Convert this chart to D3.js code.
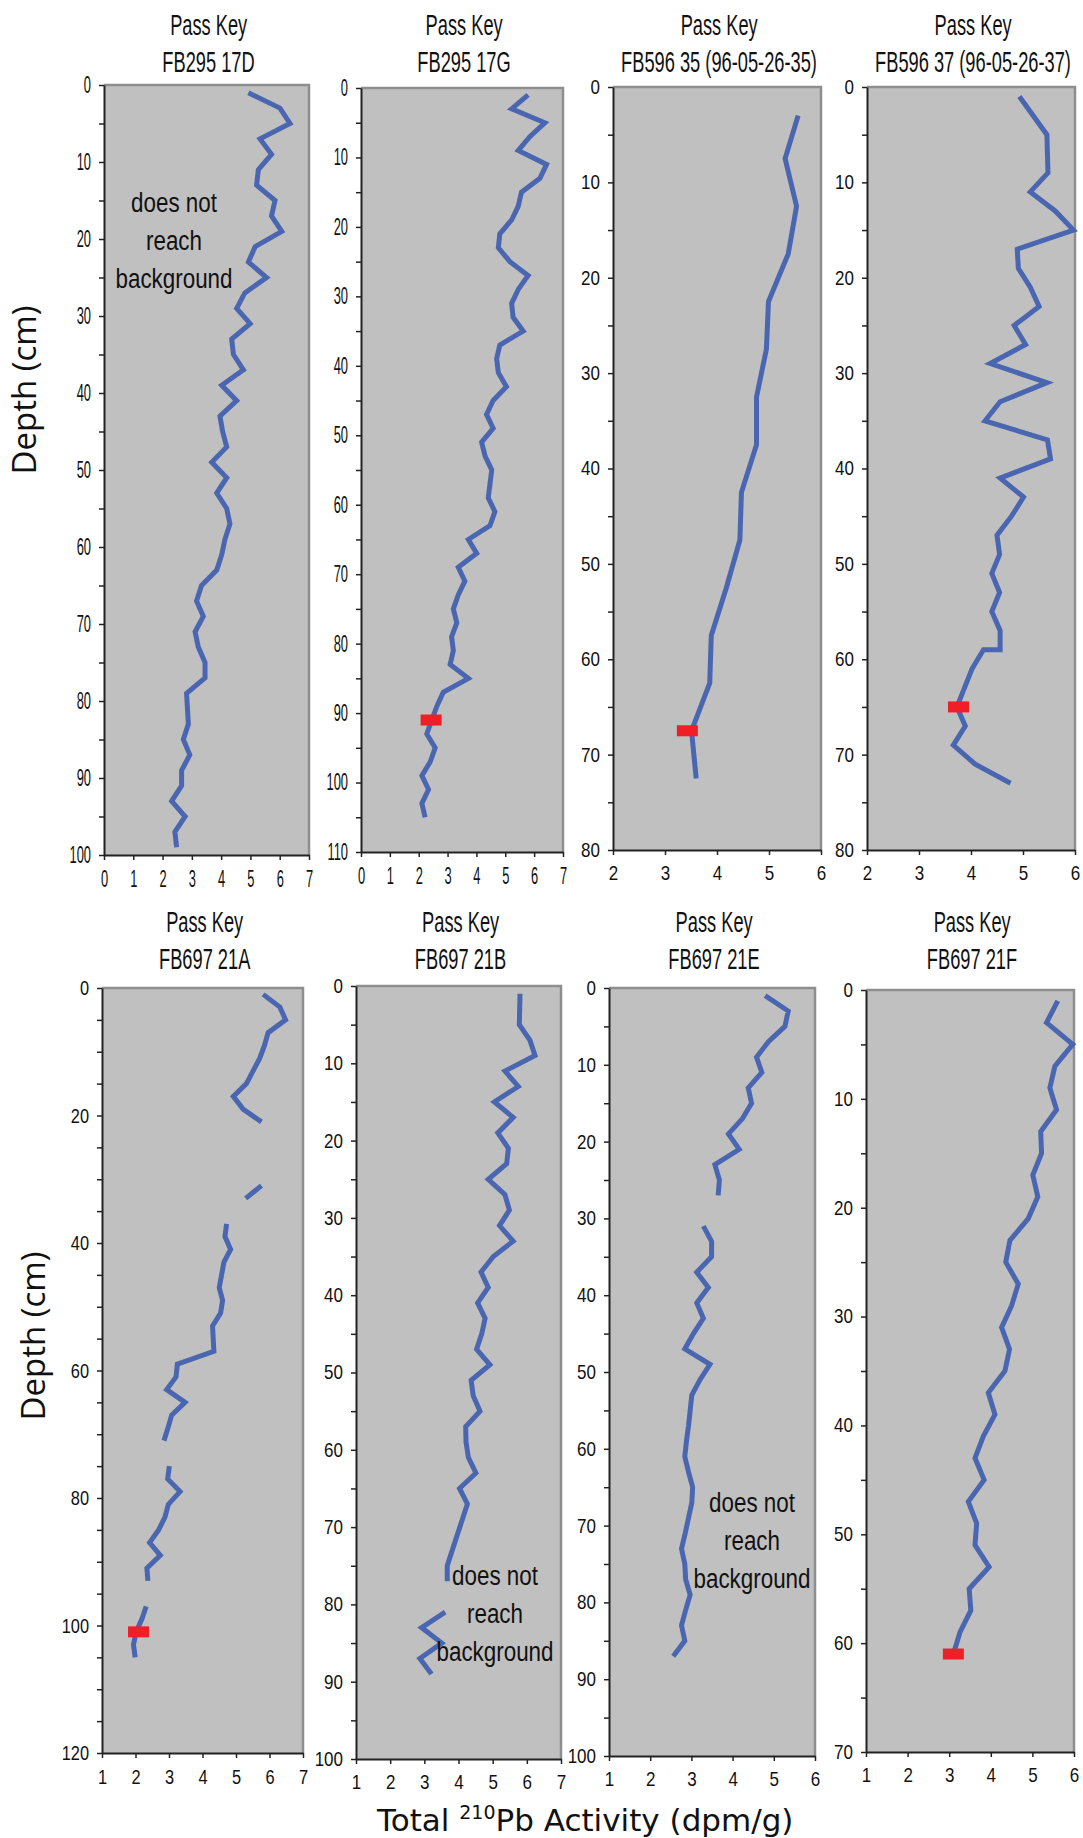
<!DOCTYPE html>
<html>
<head>
<meta charset="utf-8">
<script src="https://cdn.jsdelivr.net/npm/d3@7"></script>
<style>
  body { margin: 0; background: #fff; }
  svg text { font-family: "Liberation Sans", Arial, sans-serif; fill: #111; }
  .sq { transform-box: fill-box; transform-origin: center; }
  .sqr { transform-box: fill-box; transform-origin: right center; }
</style>
</head>
<body>
<svg width="1083" height="1838"></svg>
<script>
// depth (cm) and total 210Pb activity (dpm/g) for each core, null = gap in the line
const depth17D = [1,3,5,7,9,11,13,15,17,19,21,23,25,27,29,31,33,35,37,39,41,43,45,47,49,51,53,55,57,59,61,63,65,67,69,71,73,75,77,79,81,83,85,87,89,91,93,95,97,99];
const pb17D = [4.93,6.01,6.35,5.33,5.72,5.27,5.21,5.84,5.72,6.07,5.16,4.93,5.55,4.81,4.53,4.99,4.36,4.42,4.76,4.02,4.53,3.96,4.05,4.19,3.68,4.19,3.85,4.19,4.30,4.13,4.02,3.85,3.33,3.16,3.39,3.11,3.22,3.45,3.45,2.82,2.85,2.88,2.71,2.93,2.65,2.65,2.31,2.77,2.42,2.48];

const depth17G = [1,3,5,7,9,11,13,15,17,19,21,23,25,27,29,31,33,35,37,39,41,43,45,47,49,51,53,55,57,59,61,63,65,67,69,71,73,75,77,79,81,83,85,87,89,91,93,95,97,99,101,103,105];
const pb17G = [5.79,5.22,6.37,5.85,5.45,6.43,6.20,5.56,5.45,5.22,4.81,4.76,5.16,5.79,5.45,5.22,5.27,5.62,4.81,4.70,4.76,5.04,4.58,4.35,4.58,4.18,4.30,4.53,4.47,4.41,4.64,4.47,3.72,4.01,3.37,3.60,3.37,3.20,3.32,3.14,3.20,3.09,3.72,2.85,2.63,2.45,2.28,2.57,2.40,2.11,2.34,2.11,2.22];
const mark17G = [91, 2.43];

const depth35 = [3,7.5,12.5,17.5,22.5,27.5,32.5,37.5,42.5,47.5,52.5,57.5,62.5,67.5,72.5];
const pb35 = [5.56,5.31,5.53,5.37,4.99,4.95,4.76,4.76,4.47,4.44,4.18,3.89,3.86,3.51,3.60];
const mark35 = [67.5, 3.43];

const depth37 = [1,5,7,9,11,13,15,17,19,21,23,25,27,29,31,33,35,37,39,41,43,45,47,49,51,53,55,57,59,59,61,65,67,69,71,73];
const pb37 = [4.93,5.46,5.47,5.48,5.14,5.62,5.97,4.89,4.91,5.14,5.31,4.83,5.05,4.37,5.46,4.56,4.27,5.47,5.53,4.56,5.01,4.78,4.50,4.55,4.40,4.55,4.40,4.56,4.56,4.24,4.02,3.73,3.89,3.66,4.08,4.76];
const mark37 = [65, 3.76];

const depth21A = [1,3,5,7,9,11,15,17,19,21,25,31,33,35,37,39,41,43,45,47,49,51,53,55,57,59,61,63,65,67,69,71,73,75,77,79,81,83,85,87,89,91,93,95,97,99,101,103,105];
const pb21A = [5.81,6.31,6.48,5.96,5.85,5.71,5.31,4.92,5.21,5.76,null,5.76,5.29,null,4.72,4.67,4.84,4.64,4.57,4.50,4.60,4.54,4.30,4.32,4.34,3.25,3.21,2.93,3.48,3.08,2.97,2.85,null,3.01,2.96,3.33,2.98,2.88,2.69,2.42,2.74,2.34,2.37,null,2.32,2.19,2.02,1.94,1.99];
const mark21A = [101, 2.09];

const depth21B = [1,3,5,7,9,11,13,15,17,19,21,23,25,27,29,31,33,35,37,39,41,43,45,47,49,51,53,55,57,59,61,63,65,67,75,77,79,81,83,85,87,89];
const pb21B = [5.80,5.79,5.78,6.09,6.24,5.36,5.75,5.05,5.60,5.15,5.46,5.41,4.87,5.36,5.49,5.20,5.60,5.02,4.66,4.87,4.56,4.78,4.68,4.53,4.92,4.37,4.43,4.63,4.21,4.22,4.29,4.51,4.03,4.26,3.67,3.67,null,3.61,2.92,3.51,2.87,3.21];

const depth21E = [1,3,5,7,9,11,13,15,17,19,21,23,25,27,29,31,33,35,37,39,41,43,45,47,49,51,53,55,57,59,61,63,65,67,69,71,73,75,77,79,81,83,85,87];
const pb21E = [4.79,5.35,5.27,4.87,4.58,4.71,4.38,4.46,4.24,3.90,4.16,3.57,3.68,3.65,null,3.29,3.49,3.49,3.13,3.41,3.13,3.29,3.05,2.84,3.45,3.21,3.01,2.97,2.93,2.88,2.84,2.93,3.03,3.01,2.93,2.85,2.76,2.84,2.86,2.97,2.86,2.76,2.84,2.56];

const depth21F = [1,3,5,7,9,11,13,15,17,19,21,23,25,27,29,31,33,35,37,39,41,43,45,47,49,51,53,55,57,59,61];
const pb21F = [5.61,5.34,5.97,5.54,5.42,5.58,5.20,5.22,5.01,5.13,4.90,4.46,4.36,4.66,4.50,4.26,4.45,4.34,3.94,4.10,3.82,3.62,3.84,3.46,3.66,3.62,3.96,3.48,3.52,3.26,3.10];
const mark21F = [61, 3.10];

const titles = ["FB295 17D", "FB295 17G", "FB596 35 (96-05-26-35)", "FB596 37 (96-05-26-37)",
                "FB697 21A", "FB697 21B", "FB697 21E", "FB697 21F"];

var svg = d3.select("svg");
var blue = "#4a66b0", red = "#ee1f26", bg = "#c0c0c0";

// layout of the eight panels: plot box [left, top, right, bottom]
var panels = [
  { t: 0, d: depth17D, v: pb17D, xDom: [0, 7], yMax: 100, yLab: 10, box: [104, 85, 309, 855], fs: 23, sx: 0.56, row: 0, note: [174, 212] },
  { t: 1, d: depth17G, v: pb17G, xDom: [0, 7], yMax: 110, yLab: 10, box: [361, 88, 563, 852], fs: 23, sx: 0.56, row: 0, mark: mark17G },
  { t: 2, d: depth35, v: pb35, xDom: [2, 6], yMax: 80, yLab: 10, box: [613, 87, 821, 850], fs: 20, sx: 0.85, row: 0, mark: mark35 },
  { t: 3, d: depth37, v: pb37, xDom: [2, 6], yMax: 80, yLab: 10, box: [867, 87, 1075, 850], fs: 20, sx: 0.85, row: 0, mark: mark37 },
  { t: 4, d: depth21A, v: pb21A, xDom: [1, 7], yMax: 120, yLab: 20, box: [102, 988, 303, 1753], fs: 21, sx: 0.78, row: 1, mark: mark21A },
  { t: 5, d: depth21B, v: pb21B, xDom: [1, 7], yMax: 100, yLab: 10, box: [356, 986, 561, 1759], fs: 20, sx: 0.85, row: 1, note: [495, 1585] },
  { t: 6, d: depth21E, v: pb21E, xDom: [1, 6], yMax: 100, yLab: 10, box: [609, 988, 815, 1756], fs: 20, sx: 0.85, row: 1, note: [752, 1512] },
  { t: 7, d: depth21F, v: pb21F, xDom: [1, 6], yMax: 70, yLab: 10, box: [866, 990, 1074, 1752], fs: 20, sx: 0.85, row: 1, mark: mark21F }
];

panels.forEach(function (p) {
  var L = p.box[0], T = p.box[1], R = p.box[2], B = p.box[3];
  var x = d3.scaleLinear().domain(p.xDom).range([L, R]);
  var y = d3.scaleLinear().domain([0, p.yMax]).range([T, B]);

  svg.append("rect")
    .attr("x", L).attr("y", T)
    .attr("width", R - L).attr("height", B - T)
    .attr("fill", bg);

  // grey frame on top and right
  svg.append("path")
    .attr("d", "M" + L + "," + T + "H" + R + "V" + B)
    .attr("fill", "none")
    .attr("stroke", "#8e8e8e")
    .attr("stroke-width", 2.5);

  var yAxis = svg.append("g")
    .attr("transform", "translate(" + L + ",0)")
    .call(d3.axisLeft(y)
      .tickValues(d3.range(0, p.yMax + 0.1, 5))
      .tickSize(5).tickSizeOuter(0).tickPadding(8)
      .tickFormat(function (d) { return d % p.yLab === 0 ? d : ""; }));

  var xAxis = svg.append("g")
    .attr("transform", "translate(0," + B + ")")
    .call(d3.axisBottom(x)
      .tickValues(d3.range(p.xDom[0], p.xDom[1] + 0.1, 1))
      .tickSize(5).tickSizeOuter(0).tickPadding(11)
      .tickFormat(d3.format("d")));

  [yAxis, xAxis].forEach(function (a) {
    a.select(".domain").attr("stroke", "#222").attr("stroke-width", 2);
    a.selectAll(".tick line").attr("stroke", "#222").attr("stroke-width", 1.5);
    a.selectAll("text").attr("font-size", p.fs).style("transform", "scaleX(" + p.sx + ")");
  });
  yAxis.selectAll("text").attr("class", "sqr");
  xAxis.selectAll("text").attr("class", "sq");

  var line = d3.line()
    .defined(function (d) { return d[1] != null; })
    .x(function (d) { return x(d[1]); })
    .y(function (d) { return y(d[0]); });

  svg.append("path")
    .datum(d3.zip(p.d, p.v))
    .attr("fill", "none")
    .attr("stroke", blue)
    .attr("stroke-width", 5)
    .attr("stroke-linejoin", "miter")
    .attr("d", line);

  if (p.mark) {
    svg.append("rect")
      .attr("x", x(p.mark[1]) - 10.5)
      .attr("y", y(p.mark[0]) - 5.5)
      .attr("width", 21).attr("height", 11)
      .attr("fill", red);
  }

  // panel title
  var cx = (L + R) / 2 + 2;
  var ty = p.row === 0 ? 35 : 932;
  ["Pass Key", titles[p.t]].forEach(function (s, i) {
    svg.append("text")
      .attr("class", "sq")
      .attr("x", cx).attr("y", ty + i * 37)
      .attr("text-anchor", "middle")
      .attr("font-size", 29)
      .style("transform", "scaleX(0.63)")
      .text(s);
  });

  if (p.note) {
    ["does not", "reach", "background"].forEach(function (s, i) {
      svg.append("text")
        .attr("class", "sq")
        .attr("x", p.note[0]).attr("y", p.note[1] + i * 38)
        .attr("text-anchor", "middle")
        .attr("font-size", 28)
        .style("transform", "scaleX(0.8)")
        .text(s);
    });
  }
});

// axis titles
[[36, 390], [45, 1336]].forEach(function (c) {
  svg.append("text")
    .attr("transform", "translate(" + c[0] + "," + c[1] + ") rotate(-90)")
    .attr("text-anchor", "middle")
    .style("font-family", "'Open Sans', sans-serif")
    .attr("font-size", 33)
    .text("Depth (cm)");
});

var xt = svg.append("text")
  .attr("x", 377).attr("y", 1831)
  .style("font-family", "'DejaVu Sans', sans-serif")
  .attr("font-size", 31);
xt.append("tspan").text("Total ");
xt.append("tspan").attr("font-size", 19).attr("dy", -12).text("210");
xt.append("tspan").attr("dy", 12).text("Pb Activity (dpm/g)");
</script>
</body>
</html>
